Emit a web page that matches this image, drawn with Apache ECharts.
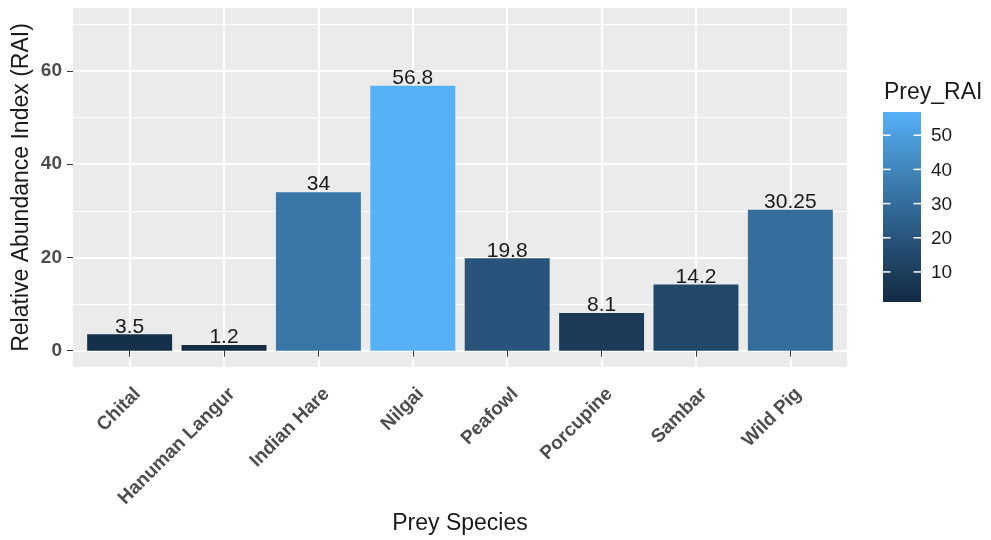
<!DOCTYPE html>
<html><head><meta charset="utf-8">
<script src="https://cdn.jsdelivr.net/npm/echarts@6/dist/echarts.min.js"></script>
<style>html,body{margin:0;padding:0;background:#fff}#c{width:991px;height:540px}</style>
</head><body><div id="c"></div>
<script>
const categories = ['Chital','Hanuman Langur','Indian Hare','Nilgai','Peafowl','Porcupine','Sambar','Wild Pig'];
const preyRAI = [3.5, 1.2, 34, 56.8, 19.8, 8.1, 14.2, 30.25];
const yMajorTicks = [0, 20, 40, 60];
const yMinorTicks = [10, 30, 50, 70];
const legendTicks = [10, 20, 30, 40, 50];
const gradientStops = ['#132B43', '#22496C', '#336A98', '#448DC6', '#56B1F7'];

const FONT = "'Liberation Sans', Arial, sans-serif";
const panel = {left: 73, top: 8, width: 774, height: 359};
const yLim = [-3.5, 73.5];
const xLim = [0.4, categories.length + 0.6];
function yPx(v) { return panel.top + panel.height * (yLim[1] - v) / (yLim[1] - yLim[0]); }
function xPx(p) { return panel.left + panel.width * (p - xLim[0]) / (xLim[1] - xLim[0]); }

const dMin = Math.min(...preyRAI), dMax = Math.max(...preyRAI);
const barL = xPx(1), barR = xPx(categories.length);
const labelShift = 8;

const hiddenAxis = (gi) => ({gridIndex: gi, type: 'value', show: false});

// legend graphics
const cb = {x: 883, y: 112, w: 38, h: 190};
const legendEls = [];
legendEls.push({type: 'text', left: 884, top: 81, style: {text: 'Prey_RAI', font: '23px ' + FONT, fill: '#1a1a1a'}});
legendEls.push({type: 'rect', shape: {x: cb.x, y: cb.y, width: cb.w, height: cb.h},
  style: {fill: {type: 'linear', x: 0, y: 1, x2: 0, y2: 0,
    colorStops: gradientStops.map((c, i) => ({offset: i / (gradientStops.length - 1), color: c}))}}});
legendTicks.forEach(v => {
  const y = cb.y + cb.h * (dMax - v) / (dMax - dMin);
  legendEls.push({type: 'line', shape: {x1: cb.x, y1: y, x2: cb.x + 7.5, y2: y}, style: {stroke: '#fff', lineWidth: 1.5}});
  legendEls.push({type: 'line', shape: {x1: cb.x + cb.w - 7.5, y1: y, x2: cb.x + cb.w, y2: y}, style: {stroke: '#fff', lineWidth: 1.5}});
  legendEls.push({type: 'text', x: cb.x + cb.w + 10, y: y + 1, style: {text: String(v), font: '19px ' + FONT, fill: '#1a1a1a', verticalAlign: 'middle', align: 'left'}});
});

const option = {
  animation: false,
  backgroundColor: '#ffffff',
  grid: [
    {left: panel.left, top: panel.top, width: panel.width, height: panel.height, show: true, backgroundColor: '#EBEBEB', borderWidth: 0},
    {left: panel.left, width: panel.width, top: yPx(yMinorTicks[yMinorTicks.length - 1]), height: yPx(yMinorTicks[0]) - yPx(yMinorTicks[yMinorTicks.length - 1])},
    {left: panel.left, width: panel.width, top: yPx(yMajorTicks[yMajorTicks.length - 1]), height: yPx(yMajorTicks[0]) - yPx(yMajorTicks[yMajorTicks.length - 1])},
    {left: barL, width: barR - barL, top: panel.top, height: panel.height},
    {left: barL + labelShift, width: barR - barL, top: panel.top, height: panel.height}
  ],
  xAxis: [
    hiddenAxis(0), hiddenAxis(1), hiddenAxis(2),
    {gridIndex: 3, type: 'category', data: categories, boundaryGap: false,
      axisLine: {show: false}, axisLabel: {show: false},
      axisTick: {show: true, interval: 0, length: 6, lineStyle: {color: '#333333', width: 1}},
      splitLine: {show: true, interval: 0, lineStyle: {color: '#ffffff', width: 2}}},
    {gridIndex: 4, type: 'category', data: categories, boundaryGap: false,
      axisLine: {show: false}, axisTick: {show: false}, splitLine: {show: false},
      axisLabel: {show: true, interval: 0, rotate: 45, margin: 24, fontSize: 19, fontWeight: 'bold', color: '#4D4D4D', fontFamily: FONT}}
  ],
  yAxis: [
    hiddenAxis(0),
    {gridIndex: 1, type: 'value', min: yMinorTicks[0], max: yMinorTicks[yMinorTicks.length - 1], interval: 20,
      axisLine: {show: false}, axisTick: {show: false}, axisLabel: {show: false},
      splitLine: {show: true, lineStyle: {color: '#ffffff', width: 1}}},
    {gridIndex: 2, type: 'value', min: yMajorTicks[0], max: yMajorTicks[yMajorTicks.length - 1], interval: 20,
      axisLine: {show: false},
      axisTick: {show: true, length: 6, lineStyle: {color: '#333333', width: 1}},
      axisLabel: {show: true, margin: 11, fontSize: 19, fontWeight: 'bold', color: '#4D4D4D', fontFamily: FONT},
      splitLine: {show: true, lineStyle: {color: '#ffffff', width: 2}}},
    {gridIndex: 3, type: 'value', min: yLim[0], max: yLim[1], show: false, splitLine: {show: false}},
    {gridIndex: 4, type: 'value', min: yLim[0], max: yLim[1], show: false, splitLine: {show: false}}
  ],
  visualMap: {type: 'continuous', show: false, min: dMin, max: dMax, seriesIndex: 0, inRange: {color: gradientStops}},
  series: [{
    type: 'bar', xAxisIndex: 3, yAxisIndex: 3, data: preyRAI, barWidth: '90%', clip: false,
    label: {show: true, position: 'top', distance: -3, fontSize: 21, color: '#1a1a1a', fontFamily: FONT}
  }],
  graphic: [
    {type: 'text', x: 22, y: panel.top + panel.height / 2, rotation: Math.PI / 2,
      style: {text: 'Relative Abundance Index (RAI)', font: '23px ' + FONT, fill: '#1a1a1a', align: 'center', verticalAlign: 'middle'}},
    {type: 'text', x: panel.left + panel.width / 2, y: 524,
      style: {text: 'Prey Species', font: '23px ' + FONT, fill: '#1a1a1a', align: 'center', verticalAlign: 'middle'}}
  ].concat(legendEls)
};
const chart = echarts.init(document.getElementById('c'), null, {renderer: 'canvas'});
chart.setOption(option);
</script></body></html>
